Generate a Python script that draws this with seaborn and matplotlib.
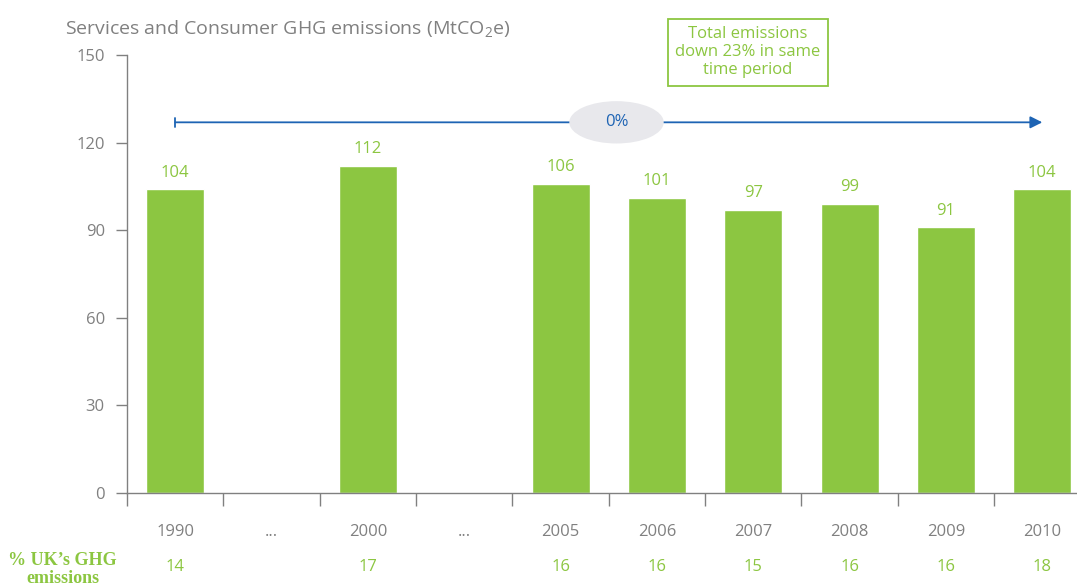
import numpy as np
import pandas as pd
import matplotlib
matplotlib.use("Agg")
import matplotlib.pyplot as plt
import seaborn as sns
from matplotlib.patches import Ellipse
from matplotlib.transforms import blended_transform_factory

# --- données ---
periods = ["1990", "...", "2000", "...", "2005", "2006", "2007", "2008", "2009", "2010"]
emissions = [104, np.nan, 112, np.nan, 106, 101, 97, 99, 91, 104]
uk_share = ["14", "", "17", "", "16", "16", "15", "16", "16", "18"]
change_label = "0%"
note_text = "Total emissions\ndown 23% in same\ntime period"
title = r"Services and Consumer GHG emissions (MtCO$_{\mathregular{2}}$e)"

GREEN = "#8CC641"
BLUE = "#1E64B4"
GREY = "#808080"

sns.set_style("white")
plt.rcParams["font.family"] = ["Open Sans", "DejaVu Sans"]
plt.rcParams["mathtext.default"] = "regular"

df = pd.DataFrame({"slot": range(len(periods)), "value": emissions}).dropna()

fig = plt.figure(figsize=(10.77, 5.87), dpi=100)
ax = fig.add_axes([0.118, 0.160, 0.882, 0.746])

sns.barplot(data=df, x="slot", y="value", order=list(range(len(periods))),
            color=GREEN, saturation=1, width=0.6, ax=ax)

ax.set_ylim(0, 150)
ax.set_xlim(-0.5, 9.36)
ax.set_yticks([0, 30, 60, 90, 120, 150])
ax.set_xlabel("")
ax.set_ylabel("")

# ticks x aux bornes, étiquettes au centre
ax.set_xticks(np.arange(-0.5, 9.5, 1.0))
ax.set_xticklabels([])
ax.set_xticks(range(len(periods)), minor=True)
ax.set_xticklabels(periods, minor=True)
ax.tick_params(axis="x", which="major", bottom=True, direction="out", length=9,
               color=GREY, width=1)
ax.tick_params(axis="x", which="minor", bottom=True, length=0, pad=22,
               labelsize=12, labelcolor=GREY)
ax.tick_params(axis="y", left=True, direction="out", length=8, color=GREY, width=1,
               labelsize=12, labelcolor=GREY, pad=8)

for side in ["top", "right"]:
    ax.spines[side].set_visible(False)
for side in ["left", "bottom"]:
    ax.spines[side].set_color(GREY)
    ax.spines[side].set_linewidth(1)

# valeurs au-dessus des barres
for i, v in enumerate(emissions):
    if not np.isnan(v):
        ax.text(i, v + 3, f"{v:.0f}", ha="center", va="bottom", color=GREEN, fontsize=12)

# flèche 0%
ax.annotate("", xy=(9.0, 127), xytext=(0, 127),
            arrowprops=dict(arrowstyle="-|>", color=BLUE, lw=1.3, mutation_scale=18,
                            shrinkA=0, shrinkB=0))
ax.plot([0, 0], [125.5, 128.5], color=BLUE, lw=1.3)
ax.add_patch(Ellipse((4.58, 127), 0.98, 14.5, facecolor="#E8E8EC", edgecolor="none", zorder=3))
ax.text(4.58, 127, change_label, ha="center", va="center", color=BLUE, fontsize=12, zorder=4)

# encadré note
fig.text(0.6945, 0.911, note_text, ha="center", va="center", color=GREEN, fontsize=12,
         linespacing=1.15,
         bbox=dict(boxstyle="square,pad=0.45", facecolor="white", edgecolor=GREEN, lw=1.3))

# titre
fig.text(0.060, 0.952, title, ha="left", va="center", color=GREY, fontsize=14)

# ligne % UK
trans = blended_transform_factory(ax.transData, fig.transFigure)
for i, s in enumerate(uk_share):
    if s:
        ax.text(i, 0.034, s, transform=trans, ha="center", va="center", color=GREEN, fontsize=12)
fig.text(0.058, 0.030, "% UK\u2019s GHG\nemissions", ha="center", va="center", color=GREEN,
         fontsize=13, fontweight="bold", family=["Liberation Serif", "DejaVu Serif"],
         linespacing=1.05)

fig.savefig("out.png", dpi=100)
